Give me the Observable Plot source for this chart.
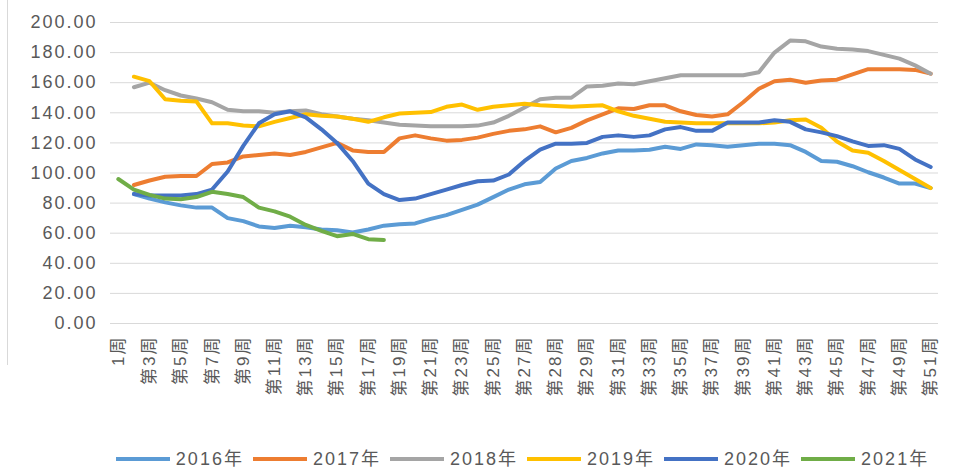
<!DOCTYPE html>
<html>
<head>
<meta charset="utf-8">
<script src="https://cdn.jsdelivr.net/npm/d3@7"></script>
<script src="https://cdn.jsdelivr.net/npm/@observablehq/plot@0.6"></script>
<style>
  html, body { margin: 0; padding: 0; background: #fff; }
  body { width: 963px; height: 471px; overflow: hidden; position: relative;
         font-family: 'Liberation Sans', 'Noto Sans CJK SC', sans-serif; }
  #chart svg text { letter-spacing: 2px; }
  #border { position: absolute; left: 7px; top: 0; width: 1px; height: 365px; background: #D9D9D9; }
  #legend { position: absolute; top: 447px; left: 100px; width: 845px; height: 24px;
            display: flex; justify-content: center; align-items: center; gap: 9px; }
  #legend .item { display: flex; align-items: center; }
  #legend .sw { width: 54px; height: 4px; margin-right: 6px; }
  #legend .lb { font-size: 18px; letter-spacing: 2px; color: #595959; line-height: 24px; }
</style>
</head>
<body>
<div id="border"></div>
<div id="chart"></div>
<div id="legend"></div>
<script>
// ---- data ----
const seriesNames = ["2016年", "2017年", "2018年", "2019年", "2020年", "2021年"];
const seriesColors = ["#5B9BD5", "#ED7D31", "#A5A5A5", "#FFC000", "#4472C4", "#70AD47"];
const seriesStartWeek = [2, 2, 2, 2, 2, 1];

const v2016 = [86, 83, 80.5, 78.5, 77, 77, 70, 68, 64.5, 63.5, 65, 64,
  62.5, 62, 60.5, 62.5, 65, 66, 66.5, 69.5, 72, 75.5, 79, 84,
  89, 92.5, 94, 103, 108, 110, 113, 115, 115, 115.5, 117.5, 116,
  119, 118.5, 117.5, 118.5, 119.5, 119.5, 118.5, 114, 108, 107.5, 104.5, 100.5,
  97, 93, 93, 90];
const v2017 = [92, 95, 97.5, 98, 98, 106, 107, 111, 112, 113, 112, 114,
  117, 120, 115, 114, 114, 123, 125, 123, 121.5, 122, 123.5, 126,
  128, 129, 131, 127, 130, 135, 139, 143, 142.5, 145, 145, 141,
  138.5, 137.5, 139, 147, 156, 161, 162, 160, 161.5, 162, 165.5, 169,
  169, 169, 168.5, 166];
const v2018 = [157, 160, 155, 151.5, 149.5, 147, 142, 141, 141, 140, 141, 141.5,
  139, 137.5, 136, 135, 133.5, 132, 131.5, 131, 131, 131, 131.5, 133.5,
  138, 143.5, 149, 150, 150, 157.5, 158, 159.5, 159, 161, 163, 165,
  165, 165, 165, 165, 167, 180, 188, 187.5, 184, 182.5, 182, 181,
  178.5, 176, 171.5, 166];
const v2019 = [164, 161, 149, 148, 147.5, 133, 133, 131.5, 131, 134, 136.5, 139,
  138, 137.5, 136, 134, 137, 139.5, 140, 140.5, 144, 145.5, 142, 144,
  145, 146, 145, 144.5, 144, 144.5, 145, 141, 138, 136, 134, 133.5,
  133, 133, 133, 133, 133, 133.5, 135, 135.5, 130, 121, 115, 113.5,
  108, 102, 96, 90];
const v2020 = [86, 85, 85, 85, 86, 89, 101, 118, 133, 139, 141, 137,
  129, 120, 108, 93, 86, 82, 83, 86, 89, 92, 94.5, 95,
  99, 108, 115.5, 119.5, 119.5, 120, 124, 125, 124, 125, 129, 130.5,
  128, 128, 133.5, 133.5, 133.5, 135, 134, 129, 127, 124.5, 121, 118,
  118.5, 116, 109, 104];
const v2021 = [96, 89, 85.5, 83, 82.5, 84, 87.5, 86, 84, 77, 74.5, 71,
  65.5, 61.5, 58, 59.5, 56, 55.5];
const seriesValues = [v2016, v2017, v2018, v2019, v2020, v2021];

// x-axis tick labels, one at every other week position
const xTickWeeks = [1, 3, 5, 7, 9, 11, 13, 15, 17, 19, 21, 23, 25, 27, 29, 31, 33, 35, 37, 39, 41, 43, 45, 47, 49, 51, 53];
const xTickLabels = ["1周", "第3周", "第5周", "第7周", "第9周", "第11周", "第13周", "第15周", "第17周",
  "第19周", "第21周", "第23周", "第25周", "第27周", "第28周", "第29周", "第31周", "第33周", "第35周",
  "第37周", "第39周", "第41周", "第43周", "第45周", "第47周", "第49周", "第51周"];
const yTicks = [0, 20, 40, 60, 80, 100, 120, 140, 160, 180, 200];
const weekCount = 53;

// ---- build ----
const labelOf = new Map(xTickWeeks.map((w, i) => [w, xTickLabels[i]]));
const lineMarks = seriesNames.map((name, s) => {
  const rows = seriesValues[s].map((v, k) => ({week: seriesStartWeek[s] + k, value: v}));
  return Plot.line(rows, {x: "week", y: "value", stroke: seriesColors[s], strokeWidth: 4,
    strokeLinejoin: "round", strokeLinecap: "round"});
});

const chart = Plot.plot({
  width: 963,
  height: 440,
  marginLeft: 110,
  marginRight: 25,
  marginTop: 22,
  marginBottom: 117,
  style: {fontFamily: "'Liberation Sans', 'Noto Sans CJK SC', sans-serif", color: "#595959", background: "transparent"},
  x: {domain: [0.5, weekCount + 0.5]},
  y: {domain: [0, 200]},
  marks: [
    Plot.ruleY(yTicks, {stroke: "#D9D9D9", strokeWidth: 1}),
    Plot.axisY({ticks: yTicks, tickSize: 0, tickPadding: 13, fontSize: 18, tickFormat: d3.format(".2f"), label: null}),
    Plot.axisX({ticks: xTickWeeks, tickSize: 0, tickPadding: 12, tickRotate: -90, fontSize: 17,
      tickFormat: d => labelOf.get(d), label: null}),
    ...lineMarks
  ]
});
document.getElementById("chart").appendChild(chart);

const legend = document.getElementById("legend");
seriesNames.forEach((name, s) => {
  const item = document.createElement("div");
  item.className = "item";
  item.innerHTML = `<span class="sw" style="background:${seriesColors[s]}"></span><span class="lb">${name}</span>`;
  legend.appendChild(item);
});
</script>
</body>
</html>
